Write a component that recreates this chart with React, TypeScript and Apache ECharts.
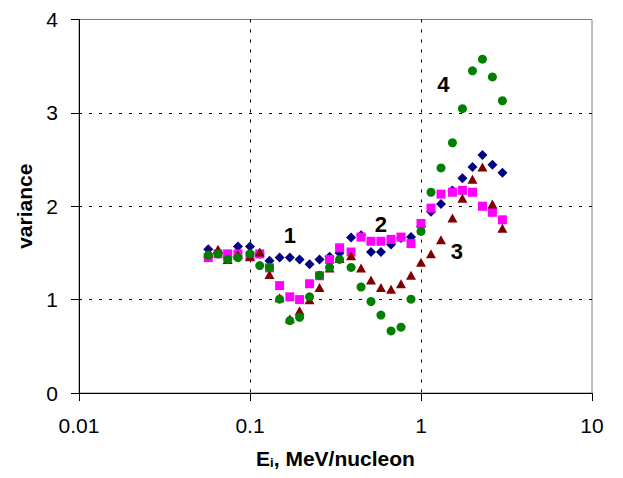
import React, { useEffect, useRef } from "react";
import * as echarts from "echarts";

const energies = [0.057, 0.065, 0.074, 0.085, 0.1, 0.114, 0.13, 0.149, 0.171, 0.195, 0.223, 0.255, 0.292, 0.334, 0.39, 0.446, 0.51, 0.583, 0.668, 0.764, 0.874, 1.0, 1.144, 1.309, 1.527, 1.747, 2.0, 2.287, 2.616, 2.993];

const series1 = [1.54, 1.5, 1.46, 1.57, 1.57, 1.49, 1.415, 1.45, 1.45, 1.43, 1.38, 1.43, 1.46, 1.5, 1.665, 1.69, 1.51, 1.51, 1.59, 1.66, 1.67, 1.78, 1.94, 2.025, 2.17, 2.3, 2.42, 2.55, 2.445, 2.36];
const series2 = [1.45, 1.49, 1.49, 1.49, 1.465, 1.49, 1.34, 1.15, 1.03, 1.0, 1.17, 1.255, 1.43, 1.555, 1.51, 1.67, 1.625, 1.625, 1.645, 1.67, 1.6, 1.815, 1.98, 2.13, 2.15, 2.17, 2.15, 2.0, 1.935, 1.855];
const series3 = [1.5, 1.54, 1.43, 1.48, 1.46, 1.51, 1.27, 1.02, 0.795, 0.88, 1.0, 1.13, 1.34, 1.44, 1.47, 1.34, 1.21, 1.13, 1.11, 1.17, 1.26, 1.4, 1.49, 1.64, 1.875, 2.085, 2.29, 2.42, 2.025, 1.765];
const series4 = [1.475, 1.49, 1.43, 1.45, 1.49, 1.365, 1.345, 1.005, 0.775, 0.81, 1.03, 1.26, 1.345, 1.43, 1.345, 1.135, 0.98, 0.835, 0.665, 0.705, 1.005, 1.73, 2.15, 2.41, 2.68, 3.045, 3.45, 3.575, 3.385, 3.13];

const annotationNames = ["1", "2", "3", "4"];
const annotationX = [0.171, 0.583, 1.62, 1.35];
const annotationY = [1.69, 1.8, 1.515, 3.3];

const xTickValues = [0.01, 0.1, 1, 10];
const xTickLabels = ["0.01", "0.1", "1", "10"];

const FONT = "Arial, 'Liberation Sans', sans-serif";

function pairs(ys: number[]) {
  return ys.map((y, i) => [energies[i], y]);
}

export default function App() {
  const ref = useRef<HTMLDivElement>(null);
  useEffect(() => {
    if (!ref.current) return;
    const chart = echarts.init(ref.current, undefined, { renderer: "svg" });
    const mk = (data: number[], symbol: string, size: any, color: string) => ({
      type: "scatter",
      data: pairs(data),
      symbol,
      symbolSize: size,
      itemStyle: { color, opacity: 1 },
      emphasis: { disabled: true },
    });
    chart.setOption({
      animation: false,
      backgroundColor: "#ffffff",
      grid: {
        left: 79,
        right: 31,
        top: 19.5,
        bottom: 85,
        show: true,
        borderColor: "#808080",
        borderWidth: 1,
        backgroundColor: "transparent",
      },
      xAxis: {
        type: "log",
        logBase: 10,
        min: 0.01,
        max: 10,
        name: "{b|E}{s|i}{b|, MeV/nucleon}",
        nameLocation: "middle",
        nameGap: 55,
        nameTextStyle: {
          rich: {
            b: { fontFamily: FONT, fontSize: 21, fontWeight: "bold", color: "#000" },
            s: { fontFamily: FONT, fontSize: 13, fontWeight: "bold", color: "#000", verticalAlign: "bottom", padding: [8, 0, 0, 0] },
          },
        },
        axisLine: { show: true, lineStyle: { color: "#000", width: 1 } },
        axisTick: { show: true, inside: false, length: 8, lineStyle: { color: "#000" } },
        minorTick: { show: false },
        axisLabel: {
          margin: 22,
          fontFamily: FONT,
          fontSize: 21,
          color: "#000",
          formatter: (v: number) => {
            const idx = xTickValues.findIndex((t) => Math.abs(Math.log10(t) - Math.log10(v)) < 1e-6);
            return idx >= 0 ? xTickLabels[idx] : "";
          },
        },
        splitLine: {
          show: true,
          showMinLine: false,
          showMaxLine: false,
          lineStyle: { color: "#000", type: [3, 7], width: 1 },
        },
      },
      yAxis: {
        type: "value",
        min: 0,
        max: 4,
        interval: 1,
        name: "variance",
        nameLocation: "middle",
        nameGap: 43,
        nameTextStyle: { fontFamily: FONT, fontSize: 21, fontWeight: "bold", color: "#000" },
        axisLine: { show: true, lineStyle: { color: "#000", width: 1 } },
        axisTick: { show: true, inside: false, length: 8, lineStyle: { color: "#000" } },
        axisLabel: { margin: 21, fontFamily: FONT, fontSize: 21, color: "#000" },
        splitLine: {
          show: true,
          showMinLine: false,
          showMaxLine: false,
          lineStyle: { color: "#000", type: [3, 7], width: 1 },
        },
      },
      series: [
        mk(series1, "diamond", 10, "#000080"),
        mk(series2, "rect", 9, "#FF00FF"),
        mk(series3, "triangle", [10, 9], "#800000"),
        mk(series4, "circle", 9, "#008000"),
        {
          type: "scatter",
          symbolSize: 1,
          itemStyle: { opacity: 0 },
          data: annotationNames.map((n, i) => ({ name: n, value: [annotationX[i], annotationY[i]] })),
          label: {
            show: true,
            position: "inside",
            formatter: (p: any) => p.name,
            fontFamily: FONT,
            fontSize: 22,
            fontWeight: "bold",
            color: "#000",
            opacity: 1,
          },
          emphasis: { disabled: true },
          z: 5,
        },
      ],
    });
    return () => chart.dispose();
  }, []);
  return (
    <div
      ref={ref}
      style={{ position: "absolute", left: 0, top: 0, width: 623, height: 478, background: "#fff" }}
    />
  );
}
